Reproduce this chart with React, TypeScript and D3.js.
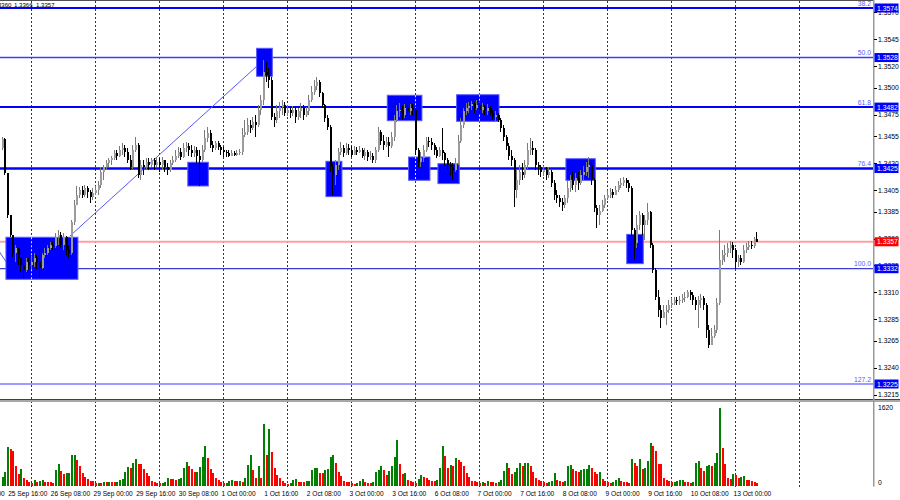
import React from "react";
import * as d3 from "d3";

// ---------- DATA ----------
// hour index 0 = 26 Sep 00:00 (H1 bars, weekends skipped); first visible bar = -11
const FIRST_BAR = -11;
const firstOpen = 3444; // price in 1e-4 units above 1.0000
const closes = [
  3452, 3421, 3382, 3363, 3347, 3351, 3342, 3335, 3331, 3338, 3335,
  3338, 3342, 3338, 3333, 3345, 3347, 3351, 3354, 3353, 3361, 3363, 3354, 3361, 3349, 3347, 3375, 3391, 3400, 3405, 3400, 3407, 3403, 3399, 3402,
  3405, 3410, 3422, 3426, 3430, 3433, 3435, 3439, 3437, 3442, 3444, 3440, 3433, 3426, 3442, 3447, 3419, 3428, 3426, 3431, 3428, 3433, 3428, 3431,
  3428, 3433, 3426, 3424, 3430, 3433, 3437, 3440, 3436, 3444, 3446, 3442, 3439, 3442, 3437, 3433, 3442, 3453, 3458, 3447, 3444, 3449, 3445, 3442,
  3440, 3439, 3437, 3439, 3438, 3439, 3440, 3456, 3459, 3465, 3463, 3468, 3465, 3479, 3489, 3515, 3512, 3507, 3473, 3470, 3478, 3482, 3484, 3477,
  3479, 3477, 3479, 3473, 3478, 3481, 3475, 3478, 3489, 3496, 3502, 3505, 3495, 3484, 3472, 3464, 3426, 3419, 3428, 3440, 3444, 3439, 3444, 3442,
  3438, 3442, 3440, 3442, 3437, 3440, 3436, 3437, 3433, 3442, 3459, 3451, 3447, 3450, 3446, 3454, 3470, 3478, 3479, 3475, 3481, 3478, 3481, 3479,
  3442, 3431, 3435, 3442, 3451, 3450, 3447, 3442, 3437, 3442, 3439, 3433, 3428, 3426, 3424, 3430, 3451, 3465, 3478, 3481, 3483, 3485, 3481, 3484,
  3479, 3482, 3478, 3481, 3477, 3473, 3475, 3470, 3463, 3454, 3446, 3437, 3433, 3405, 3414, 3422, 3419, 3428, 3442, 3444, 3442, 3428, 3426, 3422,
  3424, 3419, 3422, 3412, 3400, 3398, 3394, 3391, 3398, 3407, 3414, 3410, 3416, 3412, 3419, 3422, 3426, 3428, 3414, 3388, 3382, 3386, 3391, 3398,
  3400, 3403, 3400, 3405, 3410, 3412, 3414, 3412, 3407, 3368, 3356, 3373, 3382, 3373, 3377, 3385, 3354, 3331, 3306, 3294, 3286, 3292, 3294, 3298,
  3300, 3303, 3302, 3303, 3305, 3306, 3310, 3308, 3303, 3298, 3303, 3305, 3298, 3275, 3261, 3270, 3275, 3300, 3340, 3345, 3347, 3351, 3354, 3349,
  3338, 3342, 3338, 3349, 3352, 3354, 3353, 3360, 3357,
];
const highs = [
  3454, 3453, 3421, 3382, 3363, 3354, 3351, 3342, 3336, 3342, 3342,
  3344, 3347, 3345, 3342, 3347, 3351, 3354, 3357, 3357, 3365, 3368, 3366, 3365, 3362, 3354, 3377, 3396, 3409, 3408, 3409, 3410, 3409, 3405, 3407,
  3409, 3413, 3426, 3428, 3433, 3435, 3437, 3442, 3442, 3446, 3449, 3447, 3444, 3438, 3447, 3454, 3449, 3433, 3433, 3435, 3435, 3435, 3435, 3435,
  3435, 3436, 3433, 3430, 3433, 3437, 3442, 3445, 3444, 3449, 3450, 3449, 3447, 3446, 3445, 3442, 3447, 3461, 3464, 3461, 3451, 3451, 3451, 3447,
  3445, 3442, 3442, 3442, 3441, 3442, 3443, 3463, 3470, 3472, 3470, 3473, 3475, 3484, 3493, 3526, 3524, 3518, 3510, 3477, 3484, 3487, 3489, 3487,
  3484, 3482, 3483, 3482, 3481, 3486, 3484, 3482, 3493, 3502, 3507, 3510, 3507, 3496, 3485, 3475, 3465, 3430, 3433, 3444, 3450, 3447, 3449, 3448,
  3446, 3446, 3445, 3446, 3444, 3444, 3442, 3441, 3439, 3445, 3464, 3461, 3456, 3454, 3454, 3459, 3475, 3484, 3486, 3484, 3485, 3484, 3485, 3485,
  3481, 3444, 3440, 3447, 3454, 3454, 3453, 3449, 3445, 3445, 3463, 3440, 3435, 3431, 3430, 3435, 3456, 3472, 3481, 3486, 3487, 3488, 3487, 3489,
  3486, 3486, 3484, 3485, 3483, 3479, 3478, 3477, 3472, 3465, 3456, 3449, 3442, 3435, 3424, 3428, 3430, 3433, 3449, 3453, 3451, 3444, 3431, 3428,
  3427, 3426, 3426, 3424, 3414, 3405, 3400, 3398, 3400, 3414, 3419, 3422, 3421, 3422, 3424, 3427, 3431, 3436, 3431, 3416, 3391, 3391, 3396, 3400,
  3405, 3407, 3406, 3409, 3413, 3416, 3417, 3416, 3414, 3409, 3370, 3382, 3386, 3384, 3382, 3393, 3386, 3356, 3333, 3312, 3298, 3298, 3298, 3303,
  3305, 3306, 3306, 3307, 3309, 3310, 3312, 3312, 3310, 3306, 3307, 3309, 3307, 3300, 3280, 3277, 3280, 3305, 3368, 3349, 3354, 3356, 3358, 3357,
  3351, 3345, 3345, 3354, 3356, 3358, 3358, 3361, 3366,
];
const lows = [
  3442, 3419, 3379, 3361, 3343, 3338, 3335, 3329, 3323, 3329, 3331,
  3332, 3334, 3332, 3324, 3332, 3342, 3345, 3349, 3349, 3351, 3354, 3351, 3349, 3345, 3342, 3345, 3373, 3391, 3398, 3398, 3399, 3398, 3393, 3396,
  3400, 3400, 3407, 3414, 3424, 3426, 3428, 3433, 3433, 3436, 3438, 3436, 3430, 3424, 3425, 3440, 3416, 3414, 3419, 3424, 3424, 3426, 3424, 3426,
  3422, 3424, 3422, 3419, 3422, 3428, 3431, 3435, 3433, 3435, 3440, 3437, 3436, 3436, 3430, 3409, 3431, 3440, 3450, 3444, 3440, 3442, 3442, 3438,
  3436, 3436, 3436, 3437, 3437, 3437, 3438, 3438, 3454, 3456, 3458, 3461, 3454, 3464, 3475, 3484, 3505, 3500, 3470, 3464, 3467, 3472, 3475, 3474,
  3474, 3472, 3474, 3467, 3470, 3472, 3470, 3473, 3475, 3487, 3493, 3498, 3491, 3481, 3468, 3461, 3422, 3400, 3410, 3424, 3438, 3436, 3438, 3438,
  3436, 3438, 3438, 3439, 3435, 3433, 3432, 3433, 3430, 3430, 3440, 3447, 3442, 3445, 3436, 3444, 3451, 3468, 3473, 3470, 3472, 3474, 3475, 3475,
  3438, 3426, 3426, 3431, 3440, 3445, 3442, 3438, 3435, 3436, 3433, 3428, 3424, 3419, 3414, 3422, 3428, 3449, 3463, 3475, 3477, 3479, 3477, 3479,
  3477, 3477, 3475, 3475, 3474, 3470, 3469, 3468, 3459, 3451, 3442, 3433, 3427, 3389, 3398, 3410, 3414, 3416, 3425, 3438, 3438, 3424, 3419, 3417,
  3418, 3414, 3416, 3408, 3396, 3393, 3389, 3386, 3388, 3393, 3403, 3405, 3403, 3405, 3410, 3414, 3418, 3416, 3410, 3385, 3370, 3373, 3385, 3388,
  3396, 3398, 3398, 3400, 3403, 3407, 3409, 3407, 3403, 3362, 3340, 3351, 3368, 3363, 3359, 3373, 3351, 3328, 3303, 3287, 3277, 3289, 3280, 3291,
  3296, 3298, 3298, 3298, 3300, 3301, 3305, 3303, 3298, 3294, 3277, 3296, 3294, 3268, 3258, 3266, 3268, 3272, 3298, 3335, 3338, 3343, 3347, 3342,
  3332, 3334, 3335, 3337, 3347, 3349, 3350, 3351, 3357,
];
const volumes = [
  186, 290, 790, 760, 725, 410, 240, 340, 150, 110, 70,
  60,
  110, 70, 90, 110, 80, 70, 65, 60, 320, 440, 310, 240, 255, 260, 630, 635, 530, 410, 250, 180, 130, 90, 85, 50,
  60, 55, 75, 72, 80, 70, 65, 80, 120, 140, 280, 380, 360, 470, 550, 450, 440, 350, 260, 190, 100, 70, 60, 45,
  55, 65, 150, 145, 130, 120, 130, 150, 370, 480, 410, 345, 275, 290, 390, 590, 820, 570, 345, 255, 150, 115, 70, 50,
  60, 90, 110, 95, 90, 100, 80, 150, 430, 635, 325, 150, 410, 150, 1270, 635, 1165, 690, 360, 220, 150, 100, 50, 30,
  50, 120, 140, 80, 75, 70, 85, 100, 325, 360, 370, 255, 250, 320, 340, 600, 635, 460, 275, 200, 100, 70, 65, 45,
  30, 60, 100, 140, 70, 60, 50, 70, 275, 325, 395, 325, 220, 300, 410, 595, 945, 440, 240, 255, 120, 95, 70, 60,
  140, 220, 185, 150, 120, 100, 95, 110, 360, 820, 615, 370, 420,
  395, 565, 520, 480, 395, 255, 185, 100, 95, 70,
  45, 70, 55, 95, 70, 65, 60, 80, 120, 310,
  460, 360, 240, 275, 370, 460, 395, 465, 470, 395,
  275, 150, 117, 95, 70, 50, 80, 100, 255, 117,
  95, 70, 95, 415, 430, 345, 310, 275, 325, 340,
  345, 430, 370, 275, 235, 275, 140, 100, 70, 50,
  80, 117, 165, 95, 70, 65, 60, 550, 475, 395,
  550, 345, 360, 510, 875, 820, 725, 450, 440, 150,
  117, 95, 70, 75, 95, 117, 120, 70, 65, 60,
  75, 460, 510, 360, 300, 410, 420, 410, 475, 685,
  1620, 775, 440, 150, 130, 240, 220, 150, 185, 200,
  120, 115, 95, 70, 50,
];
const timeLabels = [
  "25 Sep 00:00", "25 Sep 16:00", "26 Sep 08:00", "29 Sep 00:00", "29 Sep 16:00", "30 Sep 08:00",
  "1 Oct 00:00", "1 Oct 16:00", "2 Oct 08:00", "3 Oct 00:00", "3 Oct 16:00", "6 Oct 08:00",
  "7 Oct 00:00", "7 Oct 16:00", "8 Oct 08:00", "9 Oct 00:00", "9 Oct 16:00", "10 Oct 08:00", "13 Oct 00:00",
];
const timeLabelFirstHour = -24;
const timeLabelStep = 16;
const dayStartHours = [0, 24, 48, 72, 96, 120, 144, 168, 192, 216, 240, 264, 288];
const priceTicks = [1.357, 1.3545, 1.352, 1.35, 1.3475, 1.3455, 1.343, 1.3405, 1.3385, 1.336, 1.3335, 1.331, 1.3285, 1.3265, 1.324, 1.3215];
const fiboNames = ["38.2", "50.0", "61.8", "76.4", "100.0", "127.2"];
const fiboPrices = [1.3574, 1.3528, 1.3482, 1.3425, 1.3332, 1.3225];
const fiboColors = ["#0000ff", "#3c3cff", "#0000ff", "#0000ff", "#3c3cd8", "#9a9aff"];
const fiboWidths = [2, 1.4, 2, 2.6, 1.2, 2.2];
const bidPrice = 1.3357;
const ohlcValues = ["1.3360", "1.3366", "1.3357"];
// zones: [fromHour, toHour, topPrice, bottomPrice]
const zones = [
  [-9.4, 17.6, 1.33612, 1.33222],
  [58.8, 66.5, 1.34308, 1.34088],
  [84.6, 90.5, 1.35366, 1.35106],
  [110.6, 116.6, 1.34317, 1.33989],
  [133.6, 146.6, 1.3493, 1.34694],
  [141.6, 149.6, 1.34357, 1.34141],
  [152.6, 160.6, 1.34295, 1.3411],
  [159.6, 175.5, 1.34935, 1.34688],
  [200.6, 211.6, 1.34341, 1.3414],
  [223.4, 229.6, 1.33639, 1.33367],
];
// trend lines: [hour1, price1, hour2, price2]
const trendLines = [
  [-113.3, 1.3724, -7.6, 1.3332],
  [14.6, 1.33624, 84.7, 1.352],
];
const volumeMax = 1620;

// ---------- CHART ----------
const W = 900;
const H = 500;
const PLOT_RIGHT = 873;
const PRICE_BOTTOM = 399;
const VOL_TOP = 402;
const VOL_BASE = 485.5;
const FONT = "'Liberation Sans', Arial, sans-serif";

const xS = d3.scaleLinear().domain([0, 24]).range([31, 95]);
const yP = d3.scaleLinear().domain([1.3225, 1.3574]).range([384, 8]);
const yV = d3.scaleLinear().domain([0, volumeMax]).range([VOL_BASE, 407.5]);
const toPrice = (v: number) => 1 + v / 10000;

export default function App() {
  const bars = closes.map((c, i) => {
    const k = FIRST_BAR + i;
    const o = i === 0 ? firstOpen : closes[i - 1];
    const hi = Math.max(highs[i], o, c);
    const lo = Math.min(lows[i], o, c);
    return { k, o: toPrice(o), c: toPrice(c), h: toPrice(hi), l: toPrice(lo) };
  });

  const gridXs = dayStartHours.map((h) => xS(h));

  return (
    <svg
      width={W}
      height={H}
      style={{ position: "absolute", left: 0, top: 0, display: "block", background: "#fff" }}
      fontFamily={FONT}
    >
      <defs>
        <clipPath id="pricePane">
          <rect x={0} y={0} width={PLOT_RIGHT} height={PRICE_BOTTOM} />
        </clipPath>
        <clipPath id="volPane">
          <rect x={0} y={VOL_TOP} width={PLOT_RIGHT} height={VOL_BASE - VOL_TOP + 1} />
        </clipPath>
      </defs>
      <rect x={0} y={0} width={W} height={H} fill="#fff" />

      {/* vertical dashed grid */}
      {gridXs.map((x, i) => (
        <line key={"g" + i} x1={Math.round(x) + 0.5} x2={Math.round(x) + 0.5} y1={1} y2={488} stroke="#333" strokeWidth={1} strokeDasharray="2,2" />
      ))}

      <g clipPath="url(#pricePane)">
        {/* levels */}
        {fiboPrices.map((p, i) => (
          <line key={"lv" + i} x1={0} x2={PLOT_RIGHT} y1={yP(p)} y2={yP(p)} stroke={fiboColors[i]} strokeWidth={fiboWidths[i]} />
        ))}
        <line x1={0} x2={PLOT_RIGHT} y1={yP(bidPrice)} y2={yP(bidPrice)} stroke="#ffa0a0" strokeWidth={2} />

        {/* trend lines */}
        {trendLines.map((t, i) => (
          <line key={"tl" + i} x1={xS(t[0])} y1={yP(t[1])} x2={xS(t[2])} y2={yP(t[3])} stroke="#5555ff" strokeWidth={1} />
        ))}

        {/* zones */}
        {zones.map((z, i) => (
          <rect
            key={"z" + i}
            x={xS(z[0])}
            y={yP(z[2])}
            width={xS(z[1]) - xS(z[0])}
            height={yP(z[3]) - yP(z[2])}
            fill="#0000ff"
            stroke="#5a5aff"
            strokeWidth={1}
          />
        ))}
        {/* grid seen through zones */}
        {zones.flatMap((z, i) =>
          gridXs
            .filter((x) => x > xS(z[0]) && x < xS(z[1]))
            .map((x, j) => (
              <line
                key={"zy" + i + "-" + j}
                x1={Math.round(x) + 0.5}
                x2={Math.round(x) + 0.5}
                y1={yP(z[2])}
                y2={yP(z[3])}
                stroke="#ffff00"
                strokeWidth={1}
                strokeDasharray="2,2"
              />
            ))
        )}

        {/* candles */}
        {bars.map((b) => {
          const cx = Math.round(xS(b.k));
          const up = b.c >= b.o;
          const top = yP(Math.max(b.o, b.c));
          const bot = yP(Math.min(b.o, b.c));
          const col = up ? "#9c9c9c" : "#000";
          return (
            <g key={"c" + b.k} shapeRendering="crispEdges">
              <rect x={cx} y={yP(b.h)} width={1} height={Math.max(1, yP(b.l) - yP(b.h))} fill={up ? "#7a7a7a" : "#000"} />
              <rect x={cx - 0.5} y={top} width={2} height={Math.max(1, bot - top)} fill={col} />
            </g>
          );
        })}
      </g>

      {/* fibo level names */}
      {fiboPrices.map((p, i) => (
        <text key={"fn" + i} x={871} y={yP(p) - 2.5} fontSize={6.8} fill="#5a5aff" textAnchor="end">
          {fiboNames[i]}
        </text>
      ))}

      {/* top OHLC text (partly cut at the left edge, as in the reference) */}
      <text x={11.5} y={6.5} fontSize={6.1} fill="#000" textAnchor="end">
        {ohlcValues[0]}
      </text>
      <text x={14} y={6.5} fontSize={6.1} fill="#000">
        {ohlcValues[1]}
      </text>
      <text x={36} y={6.5} fontSize={6.1} fill="#000">
        {ohlcValues[2]}
      </text>

      {/* pane separator */}
      <rect x={0} y={PRICE_BOTTOM} width={W} height={3} fill="#a8a8a8" />
      <line x1={0} x2={W} y1={PRICE_BOTTOM + 0.5} y2={PRICE_BOTTOM + 0.5} stroke="#404040" strokeWidth={1} />
      <line x1={0} x2={PLOT_RIGHT} y1={0.5} y2={0.5} stroke="#505050" strokeWidth={1} />

      {/* volumes */}
      <g clipPath="url(#volPane)" shapeRendering="crispEdges">
        {volumes.map((v, i) => {
          const k = FIRST_BAR + i;
          const prev = i === 0 ? 0 : volumes[i - 1];
          const up = v > prev;
          const cx = Math.round(xS(k));
          return (
            <rect key={"v" + i} x={cx - 0.5} y={yV(v)} width={2} height={VOL_BASE - yV(v)} fill={up ? "#008000" : "#ff0000"} />
          );
        })}
      </g>

      {/* right axis */}
      <line x1={PLOT_RIGHT + 0.75} x2={PLOT_RIGHT + 0.75} y1={0} y2={VOL_BASE + 1} stroke="#9a9a9a" strokeWidth={1.5} />
      {priceTicks.map((p, i) => (
        <g key={"pt" + i}>
          <line x1={PLOT_RIGHT + 1} x2={PLOT_RIGHT + 4} y1={Math.round(yP(p)) + 0.5} y2={Math.round(yP(p)) + 0.5} stroke="#000" />
          <text x={PLOT_RIGHT + 5} y={yP(p) + 2.5} fontSize={6.8} fill="#000">
            {p.toFixed(4)}
          </text>
        </g>
      ))}
      {fiboPrices.map((p, i) => (
        <g key={"pb" + i}>
          <rect x={PLOT_RIGHT + 1.5} y={yP(p) - 4.5} width={W - PLOT_RIGHT - 3} height={9} fill="#0000ff" />
          <text x={PLOT_RIGHT + 4} y={yP(p) + 2.5} fontSize={6.8} fill="#fff">
            {p.toFixed(4)}
          </text>
        </g>
      ))}
      <rect x={PLOT_RIGHT + 1.5} y={yP(bidPrice) - 4.5} width={W - PLOT_RIGHT - 3} height={9} fill="#ff0000" />
      <text x={PLOT_RIGHT + 4} y={yP(bidPrice) + 2.5} fontSize={6.8} fill="#fff">
        {bidPrice.toFixed(4)}
      </text>

      {/* volume axis */}
      <text x={PLOT_RIGHT + 5} y={yV(volumeMax) + 2.5} fontSize={6.8} fill="#000">
        {volumeMax}
      </text>
      <text x={PLOT_RIGHT + 5} y={yV(0) - 1} fontSize={6.8} fill="#000">
        0
      </text>

      {/* time labels */}
      {timeLabels.map((t, j) => {
        const x = xS(timeLabelFirstHour + j * timeLabelStep) - 1.5;
        return (
          <text key={"tl" + j} x={x} y={496} fontSize={6.6} fill="#000">
            {t}
          </text>
        );
      })}
    </svg>
  );
}
